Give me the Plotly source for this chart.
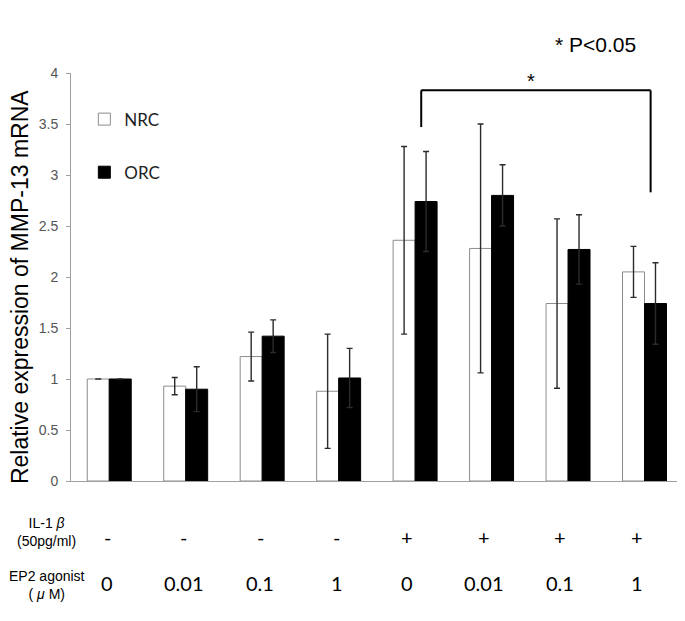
import plotly.graph_objects as go

# data
groups = ["g1", "g2", "g3", "g4", "g5", "g6", "g7", "g8"]
il1b = ["-", "-", "-", "-", "+", "+", "+", "+"]
ep2 = ["0", "0.01", "0.1", "1", "0", "0.01", "0.1", "1"]

nrc = [1.0, 0.93, 1.22, 0.88, 2.36, 2.28, 1.74, 2.05]
nrc_err = [0.0, 0.085, 0.24, 0.56, 0.92, 1.22, 0.83, 0.25]
orc = [1.0, 0.90, 1.42, 1.01, 2.74, 2.80, 2.27, 1.74]
orc_err = [0.0, 0.22, 0.16, 0.29, 0.49, 0.30, 0.34, 0.40]

yticks = [0, 0.5, 1, 1.5, 2, 2.5, 3, 3.5, 4]
ytick_text = ["0", "0.5", "1", "1.5", "2", "2.5", "3", "3.5", "4"]

# significance bracket (group 5 vs group 8)
br_left, br_right = 4.08, 7.08
br_top, br_left_end, br_right_end = 3.83, 3.47, 2.83

x = list(range(len(groups)))

fig = go.Figure()
fig.add_trace(go.Bar(
    x=x, y=nrc, name="NRC", legendgroup="a",
    marker=dict(color="white", line=dict(color="#8c8c8c", width=1)),
    error_y=dict(type="data", array=nrc_err, color="#2b2b2b", thickness=1.4, width=3),
))
fig.add_trace(go.Bar(
    x=x, y=orc, name="ORC", legendgroup="b",
    marker=dict(color="black", line=dict(color="black", width=1)),
    error_y=dict(type="data", array=orc_err, color="#2b2b2b", thickness=1.4, width=3),
))

# bracket
for x0, y0, x1, y1 in [(br_left, br_left_end, br_left, br_top),
                       (br_left, br_top, br_right, br_top),
                       (br_right, br_top, br_right, br_right_end)]:
    fig.add_shape(type="line", xref="x", yref="y", x0=x0, y0=y0, x1=x1, y1=y1,
                  line=dict(color="black", width=2))

arial = "Liberation Sans, Arial"
fig.add_annotation(x=(br_left + br_right) / 2 - 0.07, y=3.92, xref="x", yref="y", text="*",
                   xanchor="center", yanchor="middle", showarrow=False,
                   font=dict(family=arial, size=20, color="black"))
fig.add_annotation(x=0.8656, y=1.069, xref="paper", yref="paper", text="* P<0.05",
                   xanchor="center", yanchor="middle", showarrow=False,
                   font=dict(family=arial, size=21, color="black"))

# y axis title
fig.add_annotation(x=-0.085, y=0.4765, xref="paper", yref="paper",
                   text="Relative expression of MMP-13 mRNA", textangle=-90,
                   xanchor="center", yanchor="middle", showarrow=False,
                   font=dict(family=arial, size=23, color="black"))

# treatment rows below the axis
for i in x:
    shift = -2 if i < 4 else -8
    fig.add_annotation(x=i, y=-0.137, xref="x", yref="paper", text=il1b[i], xshift=shift,
                       xanchor="center", yanchor="middle", showarrow=False,
                       font=dict(family="Lato", size=20, color="black"))
    fig.add_annotation(x=i, y=-0.25, xref="x", yref="paper", text=ep2[i], xshift=shift,
                       xanchor="center", yanchor="middle", showarrow=False,
                       font=dict(family="Lato", size=20, color="black"))
fig.add_annotation(x=-0.04, y=-0.126, xref="paper", yref="paper", text="IL-1 <i>β</i><br>(50pg/ml)",
                   xanchor="center", yanchor="middle", showarrow=False,
                   font=dict(family=arial, size=14, color="black"))
fig.add_annotation(x=-0.039, y=-0.254, xref="paper", yref="paper", text="EP2 agonist<br>( <i>μ</i> M)",
                   xanchor="center", yanchor="middle", showarrow=False,
                   font=dict(family=arial, size=14, color="black"))

fig.update_layout(
    width=677, height=613,
    margin=dict(l=63, r=8, t=65, b=140, autoexpand=False),
    plot_bgcolor="white", paper_bgcolor="white",
    barmode="group", bargap=0.425, bargroupgap=0,
    showlegend=True,
    legend=dict(x=0.022, y=0.93, xanchor="left", yanchor="top", tracegroupgap=28,
                font=dict(family="Lato", size=17, color="#222222"), bgcolor="rgba(0,0,0,0)",
                itemwidth=30),
    xaxis=dict(range=[-0.5, 7.425], showticklabels=False, ticks="", showgrid=False,
               showline=True, linecolor="#a0a0a0", linewidth=1, zeroline=False),
    yaxis=dict(range=[0, 4], tickvals=yticks, ticktext=ytick_text, ticks="outside", ticklen=4,
               tickcolor="#a0a0a0", showgrid=False, showline=True, linecolor="#a0a0a0",
               linewidth=1, zeroline=False, automargin=False, ticklabelstandoff=5,
               tickfont=dict(family=arial, size=14, color="#555555")),
)

fig.write_html("out.html")
